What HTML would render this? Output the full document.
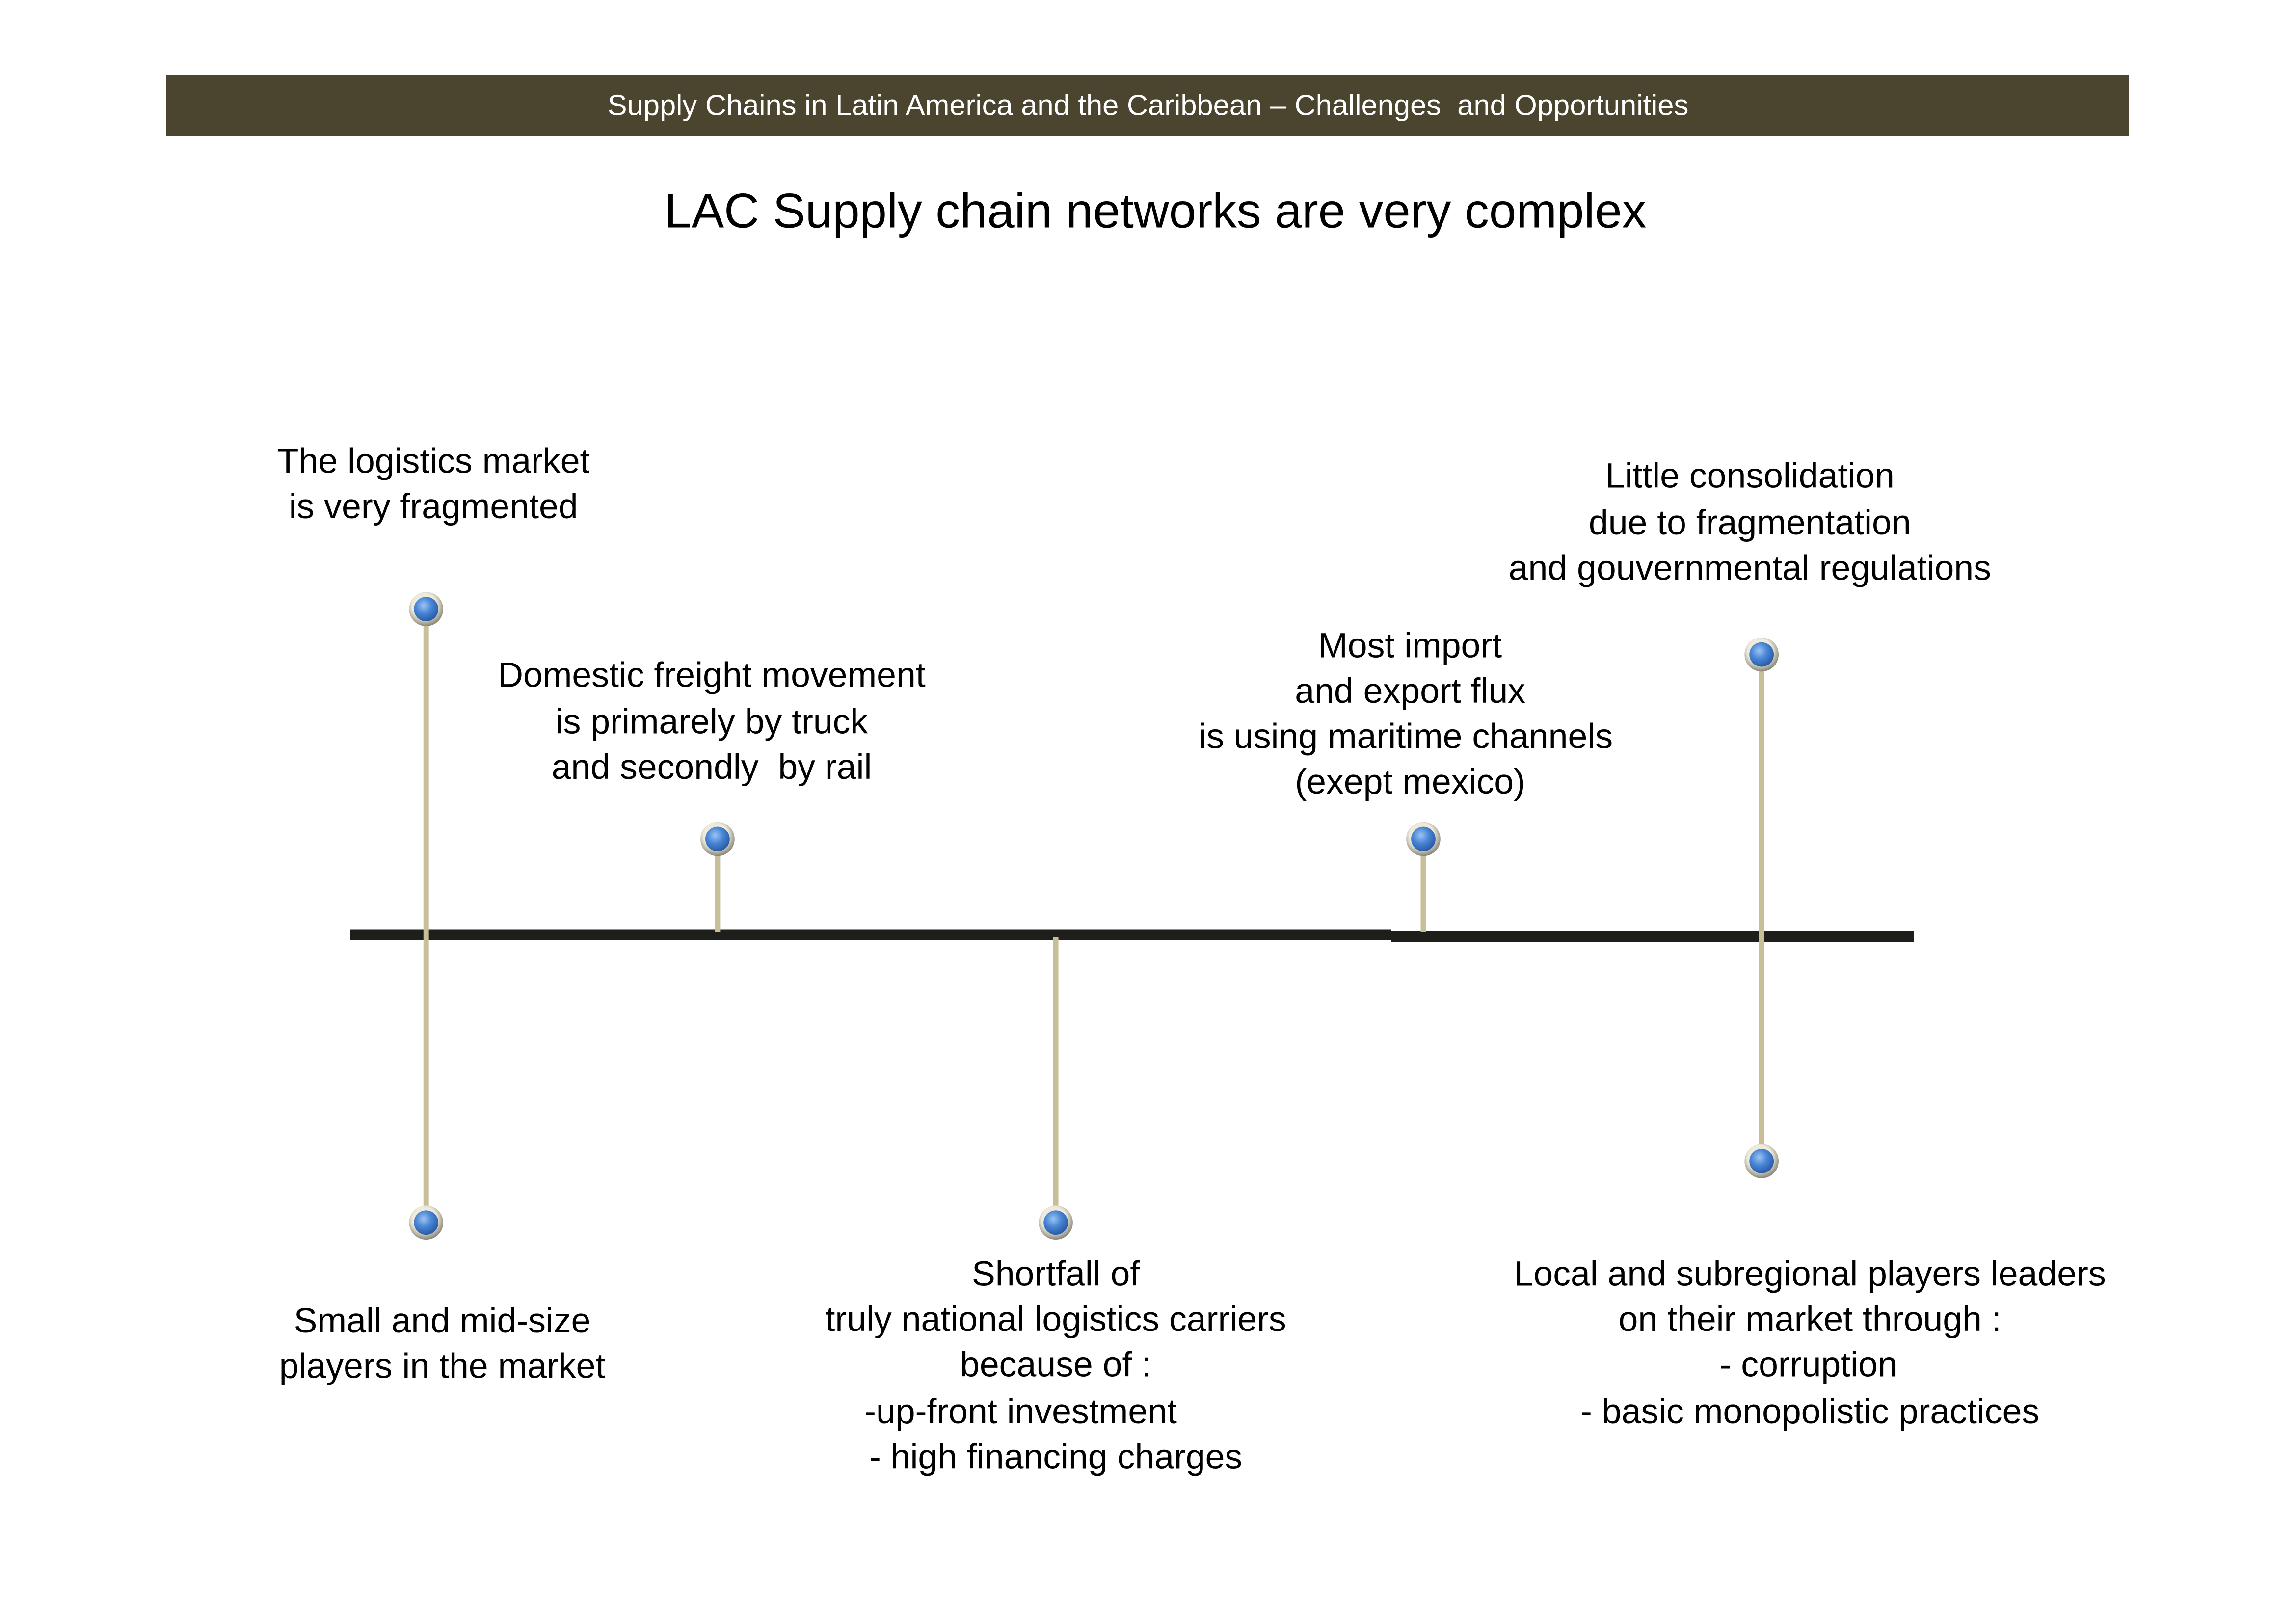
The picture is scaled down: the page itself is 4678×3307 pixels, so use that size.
<!DOCTYPE html>
<html><head><meta charset="utf-8"><style>
body{margin:0;width:4678px;height:3307px;background:#fff;position:relative;overflow:hidden;font-family:"Liberation Sans",sans-serif}
#w{position:absolute;left:0;top:0;width:4678px;height:3307px;transform:scale(0.9945);transform-origin:0 0}
.t{position:absolute;white-space:pre;transform:translate(-50%,-50%);font-size:72px;color:#000;line-height:1}
</style></head><body><div id="w">
<div style="position:absolute;left:340px;top:153px;width:4022px;height:126px;background:#4b452f"></div>
<div class="t" style="left:2352px;top:216px;color:#fff;font-size:60px">Supply Chains in Latin America and the Caribbean – Challenges  and Opportunities</div>
<div class="t" style="left:2367px;top:432px;font-size:100px">LAC Supply chain networks are very complex</div>
<svg width="4678" height="3307" style="position:absolute;left:0;top:0">
<defs>
<radialGradient id="b" cx="40%" cy="35%" r="65%"><stop offset="0" stop-color="#9cc4f2"/><stop offset="0.5" stop-color="#4a86d6"/><stop offset="1" stop-color="#2a5ca8"/></radialGradient>
<radialGradient id="r" cx="45%" cy="40%" r="60%"><stop offset="0.6" stop-color="#eeeadc"/><stop offset="1" stop-color="#8a8676"/></radialGradient>
</defs>
<line x1="717" y1="1915" x2="2850" y2="1915" stroke="#1e1e1a" stroke-width="22"/>
<line x1="2850" y1="1919" x2="3921" y2="1919" stroke="#1e1e1a" stroke-width="22"/>
<g stroke="#c8bf99" stroke-width="11">
<line x1="873" y1="1248" x2="873" y2="2505"/>
<line x1="1470" y1="1719" x2="1470" y2="1910"/>
<line x1="2163" y1="1920" x2="2163" y2="2505"/>
<line x1="2916" y1="1719" x2="2916" y2="1910"/>
<line x1="3609" y1="1341" x2="3609" y2="2379"/>
</g>
<g>
<g transform="translate(873,1248)"><circle r="35" fill="url(#r)"/><circle r="25" fill="url(#b)"/></g>
<g transform="translate(873,2505)"><circle r="35" fill="url(#r)"/><circle r="25" fill="url(#b)"/></g>
<g transform="translate(1470,1719)"><circle r="35" fill="url(#r)"/><circle r="25" fill="url(#b)"/></g>
<g transform="translate(2163,2505)"><circle r="35" fill="url(#r)"/><circle r="25" fill="url(#b)"/></g>
<g transform="translate(2916,1719)"><circle r="35" fill="url(#r)"/><circle r="25" fill="url(#b)"/></g>
<g transform="translate(3609,1341)"><circle r="35" fill="url(#r)"/><circle r="25" fill="url(#b)"/></g>
<g transform="translate(3609,2379)"><circle r="35" fill="url(#r)"/><circle r="25" fill="url(#b)"/></g>
</g>
</svg>
<div class="t" style="left:888px;top:945px">The logistics market</div>
<div class="t" style="left:888px;top:1038px">is very fragmented</div>
<div class="t" style="left:1458px;top:1383px">Domestic freight movement</div>
<div class="t" style="left:1458px;top:1479px">is primarely by truck</div>
<div class="t" style="left:1458px;top:1572px">and secondly  by rail</div>
<div class="t" style="left:2889px;top:1323px">Most import</div>
<div class="t" style="left:2889px;top:1416px">and export flux</div>
<div class="t" style="left:2880px;top:1509px">is using maritime channels</div>
<div class="t" style="left:2889px;top:1602px">(exept mexico)</div>
<div class="t" style="left:3585px;top:975px">Little consolidation</div>
<div class="t" style="left:3585px;top:1071px">due to fragmentation</div>
<div class="t" style="left:3585px;top:1164px">and gouvernmental regulations</div>
<div class="t" style="left:906px;top:2706px">Small and mid-size</div>
<div class="t" style="left:906px;top:2799px">players in the market</div>
<div class="t" style="left:2163px;top:2610px">Shortfall of</div>
<div class="t" style="left:2163px;top:2703px">truly national logistics carriers</div>
<div class="t" style="left:2163px;top:2796px">because of :</div>
<div class="t" style="left:2091px;top:2892px">-up-front investment</div>
<div class="t" style="left:2163px;top:2985px">- high financing charges</div>
<div class="t" style="left:3708px;top:2610px">Local and subregional players leaders</div>
<div class="t" style="left:3708px;top:2703px">on their market through :</div>
<div class="t" style="left:3705px;top:2796px">- corruption</div>
<div class="t" style="left:3708px;top:2892px">- basic monopolistic practices</div>
</div></body></html>
